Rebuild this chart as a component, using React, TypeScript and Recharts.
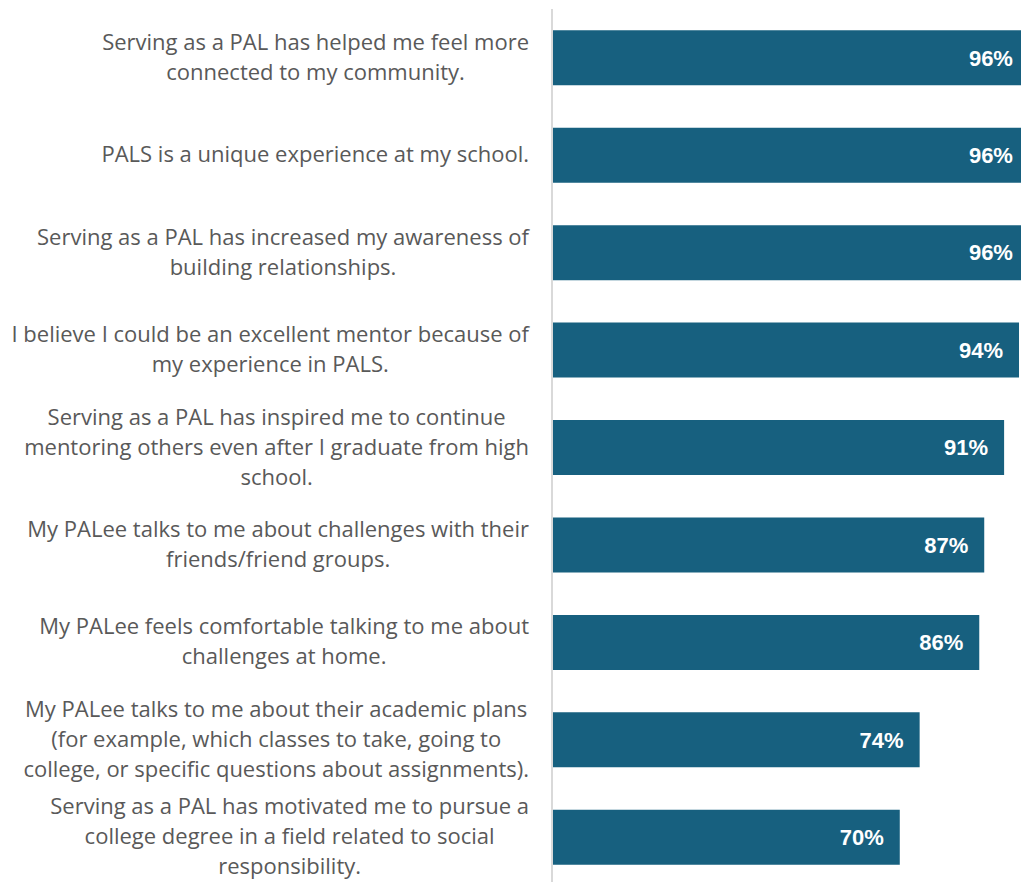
import { BarChart, Bar, XAxis, YAxis, LabelList } from "recharts"

// statements, top to bottom (line breaks as in the original)
const statements = [
  "Serving as a PAL has helped me feel more\nconnected to my community.",
  "PALS is a unique experience at my school.",
  "Serving as a PAL has increased my awareness of\nbuilding relationships.",
  "I believe I could be an excellent mentor because of\nmy experience in PALS.",
  "Serving as a PAL has inspired me to continue\nmentoring others even after I graduate from high\nschool.",
  "My PALee talks to me about challenges with their\nfriends/friend groups.",
  "My PALee feels comfortable talking to me about\nchallenges at home.",
  "My PALee talks to me about their academic plans\n(for example, which classes to take, going to\ncollege, or specific questions about assignments).",
  "Serving as a PAL has motivated me to pursue a\ncollege degree in a field related to social\nresponsibility.",
]

// share agreeing, percent
const agree = [96, 96, 96, 94, 91, 87, 86, 74, 70]

const data = statements.map((s, i) => ({ statement: s, agree: agree[i] }))

const LABEL_FONT = "22px 'Open Sans'"
const LINE_H = 30

// canvas just for measuring the widest line so each block is right aligned
let ctx: CanvasRenderingContext2D | null = null
const measure = (t: string) => {
  if (!ctx) {
    ctx = document.createElement("canvas").getContext("2d")
  }
  if (!ctx) return t.length * 10
  ctx.font = LABEL_FONT
  return ctx.measureText(t).width
}

function StatementTick(props: any) {
  const { x, y, payload } = props
  const lines: string[] = String(payload.value).split("\n")
  const widest = Math.max(...lines.map(measure))
  const right = x - 23
  const cx = right - widest / 2
  const top = y - 2 - ((lines.length - 1) * LINE_H) / 2
  return (
    <g>
      {lines.map((ln, i) => (
        <text
          key={i}
          x={cx}
          y={top + i * LINE_H}
          textAnchor="middle"
          dominantBaseline="central"
          fill="#595959"
          style={{ font: LABEL_FONT }}
        >
          {ln}
        </text>
      ))}
    </g>
  )
}

export default function App() {
  return (
    <div style={{ position: "absolute", left: 0, top: 0, width: 1021, height: 882, overflow: "hidden", background: "#fff" }}>
      <BarChart
        width={1021}
        height={886}
        data={data}
        layout="vertical"
        barCategoryGap="21.8%"
        margin={{ top: 9, right: 0, left: 0, bottom: 0 }}
      >
        <XAxis type="number" domain={[0, 94.4]} allowDataOverflow hide />
        <YAxis
          type="category"
          dataKey="statement"
          width={552}
          axisLine={{ stroke: "#d9d9d9", strokeWidth: 2 }}
          tickLine={false}
          tickSize={0}
          tickMargin={0}
          interval={0}
          tick={(p: any) => <StatementTick {...p} />}
        />
        <Bar dataKey="agree" fill="#17607f" isAnimationActive={false}>
          <LabelList
            dataKey="agree"
            position="insideRight"
            offset={16}
            formatter={(v: any) => `${v}%`}
            style={{ fill: "#fff", fontFamily: "'Liberation Sans', Arial, sans-serif", fontWeight: 700, fontSize: 22 }}
          />
        </Bar>
      </BarChart>
    </div>
  )
}
